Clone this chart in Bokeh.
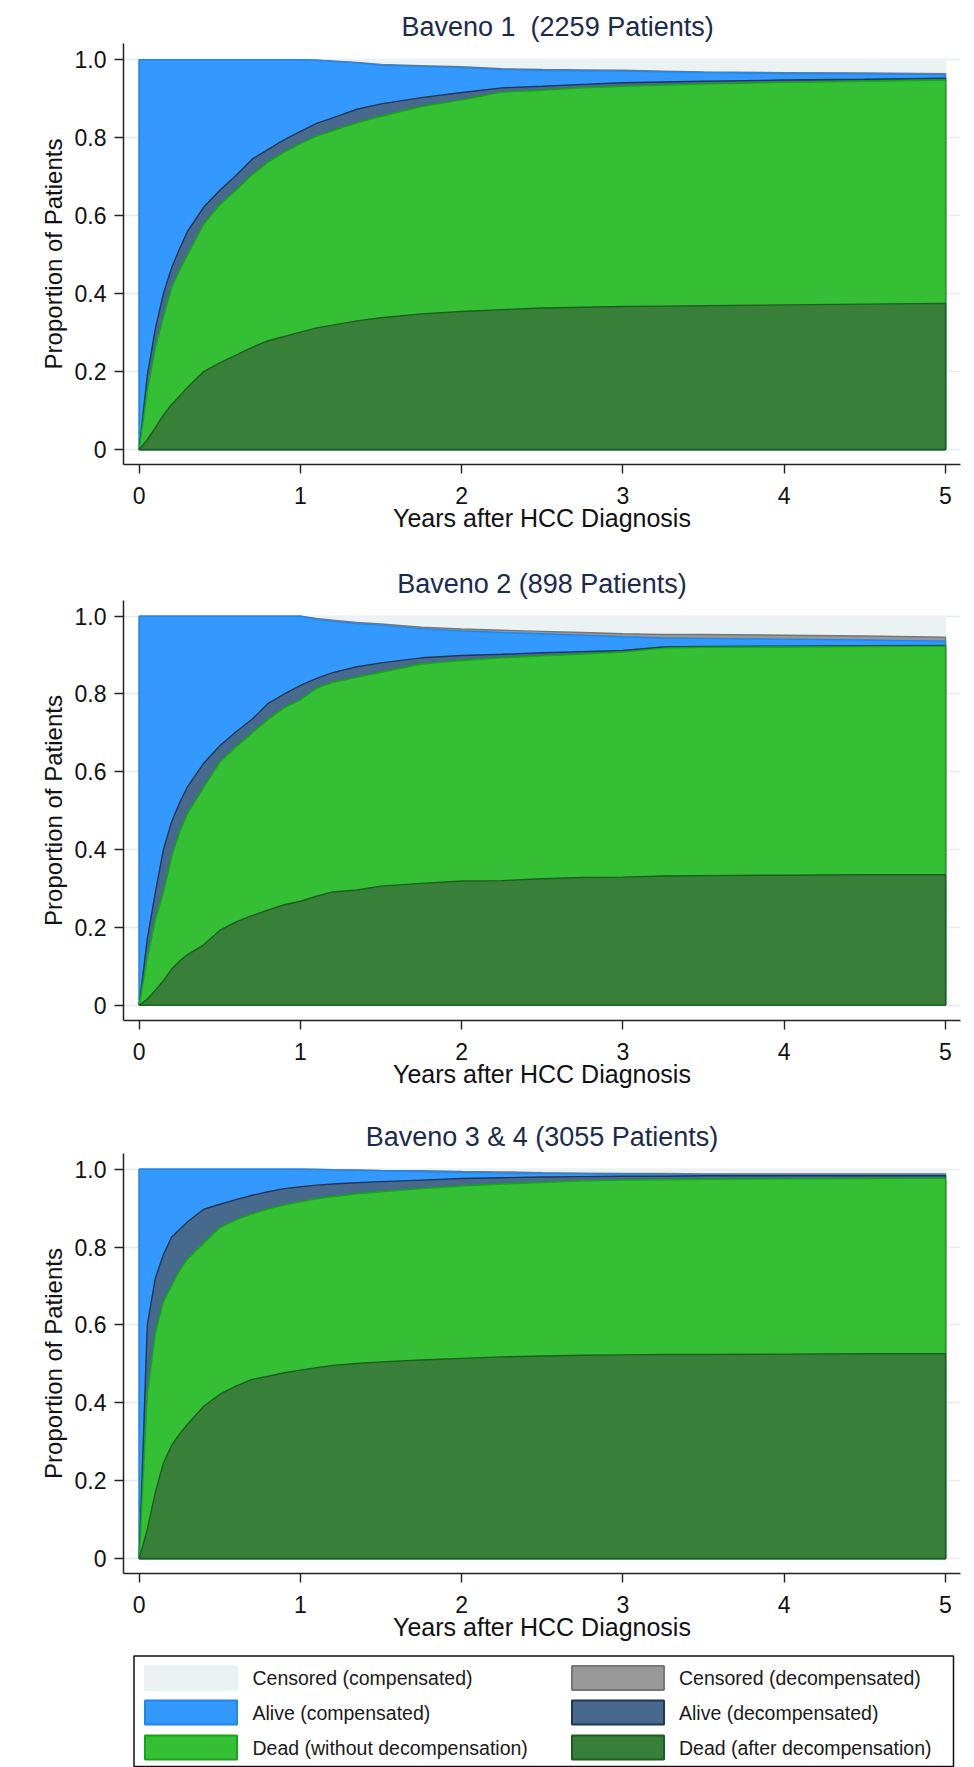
from bokeh.plotting import figure
from bokeh.models import Range1d, FixedTicker
from bokeh.layouts import column
from bokeh.embed import file_html
from bokeh.resources import INLINE
from bokeh.core.properties import value

FONT = "Liberation Sans"

# ---------------- data ----------------
years = [0, 0.05, 0.1, 0.15, 0.2, 0.25, 0.3, 0.4, 0.5, 0.6, 0.7, 0.8, 0.9, 1.0,
         1.1, 1.2, 1.35, 1.5, 1.75, 2.0, 2.25, 2.5, 2.75, 3.0, 3.25, 3.5, 4.0, 4.5, 5.0]

x_ticks = [0, 1, 2, 3, 4, 5]
x_tick_labels = ["0", "1", "2", "3", "4", "5"]
y_ticks = [0, 0.2, 0.4, 0.6, 0.8, 1.0]
y_tick_labels = ["0", "0.2", "0.4", "0.6", "0.8", "1.0"]

panel_titles = ["Baveno 1\u00a0 (2259 Patients)", "Baveno 2 (898 Patients)", "Baveno 3 & 4 (3055 Patients)"]
x_title = "Years after HCC Diagnosis"
y_title = "Proportion of Patients"

# cumulative upper edges of each stacked state (bottom -> top)
# Baveno 1
bav1_dead_after = [0, 0.025, 0.056, 0.088, 0.115, 0.137, 0.160, 0.200, 0.222, 0.242, 0.262, 0.279, 0.290, 0.301,
                   0.312, 0.319, 0.330, 0.338, 0.348, 0.354, 0.359, 0.363, 0.365, 0.367, 0.368, 0.369, 0.371, 0.373, 0.375]
bav1_dead_without = [0, 0.15, 0.26, 0.34, 0.415, 0.46, 0.50, 0.578, 0.628, 0.665, 0.705, 0.738, 0.763, 0.785,
                     0.804, 0.818, 0.838, 0.855, 0.880, 0.897, 0.917, 0.922, 0.928, 0.932, 0.935, 0.938, 0.942, 0.945, 0.948]
bav1_alive_decomp = [0, 0.19, 0.31, 0.40, 0.465, 0.515, 0.56, 0.622, 0.665, 0.703, 0.745, 0.770, 0.795, 0.816,
                     0.837, 0.851, 0.873, 0.887, 0.903, 0.916, 0.928, 0.932, 0.937, 0.941, 0.943, 0.945, 0.948, 0.950, 0.953]
bav1_alive_comp = [1.0, 1.0, 1.0, 1.0, 1.0, 1.0, 1.0, 1.0, 1.0, 1.0, 1.0, 1.0, 1.0, 1.0,
                   0.999, 0.996, 0.992, 0.986, 0.983, 0.980, 0.975, 0.973, 0.972, 0.971, 0.969, 0.967, 0.965, 0.964, 0.962]
bav1_cens_decomp = [1.0, 1.0, 1.0, 1.0, 1.0, 1.0, 1.0, 1.0, 1.0, 1.0, 1.0, 1.0, 1.0, 1.0,
                    0.999, 0.997, 0.993, 0.988, 0.985, 0.982, 0.977, 0.975, 0.974, 0.973, 0.971, 0.969, 0.967, 0.966, 0.964]
bav1_cens_comp = [1.0] * 29

# Baveno 2
bav2_dead_after = [0, 0.015, 0.038, 0.063, 0.092, 0.113, 0.130, 0.155, 0.192, 0.214, 0.230, 0.245, 0.258, 0.267,
                   0.280, 0.291, 0.296, 0.306, 0.313, 0.319, 0.320, 0.325, 0.328, 0.329, 0.332, 0.333, 0.334, 0.335, 0.335]
bav2_dead_without = [0, 0.12, 0.22, 0.29, 0.38, 0.445, 0.493, 0.560, 0.625, 0.664, 0.700, 0.735, 0.765, 0.785,
                     0.815, 0.830, 0.843, 0.856, 0.877, 0.886, 0.893, 0.898, 0.903, 0.908, 0.918, 0.920, 0.921, 0.922, 0.923]
bav2_alive_decomp = [0, 0.17, 0.29, 0.40, 0.47, 0.52, 0.562, 0.622, 0.667, 0.703, 0.735, 0.776, 0.800, 0.822,
                     0.840, 0.855, 0.870, 0.880, 0.893, 0.899, 0.902, 0.906, 0.909, 0.912, 0.921, 0.922, 0.923, 0.924, 0.925]
bav2_alive_comp = [1.0, 1.0, 1.0, 1.0, 1.0, 1.0, 1.0, 1.0, 1.0, 1.0, 1.0, 1.0, 1.0, 1.0,
                   0.992, 0.987, 0.981, 0.977, 0.968, 0.962, 0.958, 0.955, 0.951, 0.947, 0.944, 0.943, 0.941, 0.939, 0.936]
bav2_cens_decomp = [1.0, 1.0, 1.0, 1.0, 1.0, 1.0, 1.0, 1.0, 1.0, 1.0, 1.0, 1.0, 1.0, 1.0,
                    0.994, 0.990, 0.984, 0.980, 0.972, 0.967, 0.964, 0.961, 0.958, 0.955, 0.953, 0.953, 0.951, 0.949, 0.946]
bav2_cens_comp = [1.0] * 29

# Baveno 3 & 4
bav3_dead_after = [0, 0.075, 0.17, 0.245, 0.29, 0.32, 0.345, 0.391, 0.422, 0.443, 0.460, 0.468, 0.477, 0.484,
                   0.490, 0.496, 0.501, 0.505, 0.510, 0.514, 0.518, 0.520, 0.522, 0.523, 0.524, 0.524, 0.525, 0.526, 0.526]
bav3_dead_without = [0, 0.42, 0.58, 0.66, 0.70, 0.74, 0.77, 0.81, 0.85, 0.87, 0.885, 0.898, 0.908, 0.916,
                     0.924, 0.930, 0.937, 0.942, 0.950, 0.957, 0.962, 0.966, 0.970, 0.972, 0.973, 0.974, 0.975, 0.976, 0.977]
bav3_alive_decomp = [0, 0.60, 0.72, 0.78, 0.825, 0.845, 0.865, 0.897, 0.910, 0.922, 0.933, 0.942, 0.950, 0.955,
                     0.959, 0.962, 0.965, 0.968, 0.972, 0.976, 0.978, 0.980, 0.981, 0.982, 0.982, 0.983, 0.983, 0.983, 0.983]
bav3_alive_comp = [1.0, 1.0, 1.0, 1.0, 1.0, 1.0, 1.0, 1.0, 1.0, 1.0, 1.0, 1.0, 1.0, 1.0,
                   0.999, 0.998, 0.997, 0.996, 0.994, 0.992, 0.990, 0.989, 0.988, 0.987, 0.986, 0.986, 0.985, 0.985, 0.985]
bav3_cens_decomp = [1.0, 1.0, 1.0, 1.0, 1.0, 1.0, 1.0, 1.0, 1.0, 1.0, 1.0, 1.0, 1.0, 1.0,
                    1.0, 0.999, 0.998, 0.997, 0.996, 0.994, 0.993, 0.991, 0.990, 0.989, 0.989, 0.988, 0.988, 0.988, 0.988]
bav3_cens_comp = [1.0] * 29

state_labels = ["Censored (compensated)", "Censored (decompensated)",
                "Alive (compensated)", "Alive (decompensated)",
                "Dead (without decompensation)", "Dead (after decompensation)"]
state_fill = ["#ebf2f3", "#999999", "#3399ff", "#47698b", "#35bf35", "#38803a"]
state_line = ["#ebf2f3", "#777777", "#1f86ec", "#1f3656", "#12a812", "#1b5e1f"]

panels = [
    [bav1_cens_comp, bav1_cens_decomp, bav1_alive_comp, bav1_alive_decomp, bav1_dead_without, bav1_dead_after],
    [bav2_cens_comp, bav2_cens_decomp, bav2_alive_comp, bav2_alive_decomp, bav2_dead_without, bav2_dead_after],
    [bav3_cens_comp, bav3_cens_decomp, bav3_alive_comp, bav3_alive_decomp, bav3_dead_without, bav3_dead_after],
]

# layout (pixels)
FIG_W = 974
BORDER_L, BORDER_R = 123, 14
fig_heights = [538, 555, 552]
borders_tb = [(43, 74), (62, 73), (60, 72)]
y_ranges = [(-0.0385, 1.0418), (-0.0396, 1.0404), (-0.0385, 1.0403)]
title_align = ["left", "center", "center"]
title_offsets = [278, 0, 0]


def make_panel(i):
    bt, bb = borders_tb[i]
    p = figure(width=FIG_W, height=fig_heights[i],
               x_range=Range1d(-0.0975, 5.093), y_range=Range1d(*y_ranges[i]),
               output_backend="svg", toolbar_location=None,
               min_border_left=BORDER_L, min_border_right=BORDER_R,
               min_border_top=bt, min_border_bottom=bb,
               title=panel_titles[i])
    p.outline_line_color = None
    p.background_fill_color = "white"
    p.border_fill_color = "white"

    p.title.text_font = FONT
    p.title.text_font_size = "27px"
    p.title.text_font_style = "normal"
    p.title.text_color = "#1c2a4e"
    p.title.align = title_align[i]
    p.title.standoff = 4
    p.title.offset = title_offsets[i]

    zeros = [0.0] * len(years)
    xs = years + years[::-1]
    for top, fc, lc in zip(panels[i], state_fill, state_line):
        p.patch(x=xs, y=top + zeros[::-1], fill_color=fc, line_color=lc, line_width=1.4)

    p.xgrid.visible = False
    p.ygrid.ticker = FixedTicker(ticks=y_ticks)
    p.ygrid.grid_line_color = "#e4ecee"
    p.ygrid.grid_line_width = 1.3

    p.xaxis.ticker = FixedTicker(ticks=x_ticks)
    p.yaxis.ticker = FixedTicker(ticks=y_ticks)
    p.xaxis.major_label_overrides = dict(zip(x_ticks, x_tick_labels))
    p.yaxis.major_label_overrides = dict(zip(y_ticks, y_tick_labels))
    for ax in (p.xaxis[0], p.yaxis[0]):
        ax.axis_line_color = "#222222"
        ax.axis_line_width = 1.5
        ax.major_tick_line_color = "#222222"
        ax.major_tick_line_width = 1.4
        ax.major_tick_out = 9
        ax.major_tick_in = 0
        ax.minor_tick_out = 0
        ax.minor_tick_in = 0
        ax.major_label_text_font = FONT
        ax.major_label_text_font_size = "23px"
        ax.major_label_text_color = "#111111"
        ax.axis_label_text_font = FONT
        ax.axis_label_text_font_style = "normal"
        ax.axis_label_text_color = "#111111"
    p.xaxis.axis_label = x_title
    p.yaxis.axis_label = y_title
    p.xaxis.axis_label_text_font_size = "25px"
    p.yaxis.axis_label_text_font_size = "24px"
    p.xaxis.major_label_standoff = 13
    p.xaxis.axis_label_standoff = -3
    p.yaxis.major_label_standoff = 8
    p.yaxis.axis_label_standoff = 5
    return p


figs = [make_panel(i) for i in range(3)]

# ---------------- legend ----------------
LG_TOP, LG_H = 1645, 122
lg = figure(width=FIG_W, height=LG_H,
            x_range=Range1d(BORDER_L, FIG_W - BORDER_R), y_range=Range1d(LG_TOP + LG_H, LG_TOP),
            output_backend="svg", toolbar_location=None,
            min_border_left=BORDER_L, min_border_right=BORDER_R, min_border_top=0, min_border_bottom=0,
            x_axis_location=None, y_axis_location=None)
lg.outline_line_color = None
lg.grid.visible = False
lg.border_fill_color = "white"

lg.quad(left=133.5, right=953, top=1655.5, bottom=1766, fill_color=None, line_color="#111111", line_width=1.5)

col_left = [144.5, 571.5]
text_left = [252, 678.5]
row_center = [1677.5, 1712, 1747]
sw_left, sw_right, sw_top, sw_bottom, tx, ty, fills, lines = [], [], [], [], [], [], [], []
for k, lab in enumerate(state_labels):
    r, c = k // 2, k % 2
    sw_left.append(col_left[c])
    sw_right.append(col_left[c] + 92)
    sw_top.append(row_center[r] - 12)
    sw_bottom.append(row_center[r] + 12)
    tx.append(text_left[c])
    ty.append(row_center[r])
    fills.append(state_fill[k])
    lines.append(state_line[k])
lg.quad(left=sw_left, right=sw_right, top=sw_top, bottom=sw_bottom,
        fill_color=fills, line_color=lines, line_width=2)
lg.text(x=tx, y=ty, text=state_labels, text_font=value(FONT), text_font_size="19.5px",
        text_baseline="middle", text_align="left", text_color="#1a1a1a")

layout = column(*figs, lg, spacing=0)
open("out.html", "w").write(file_html(layout, INLINE))
